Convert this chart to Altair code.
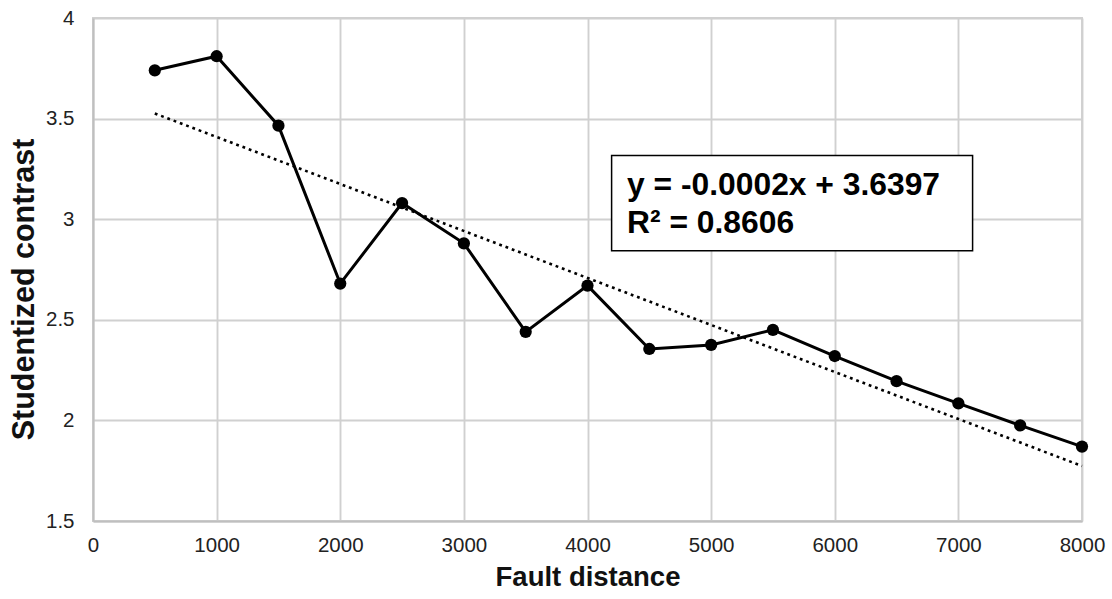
import altair as alt
import pandas as pd

# ---- data ----
distance = [500, 1000, 1500, 2000, 2500, 3000, 3500, 4000,
            4500, 5000, 5500, 6000, 6500, 7000, 7500, 8000]
contrast = [3.74, 3.81, 3.465, 2.68, 3.08, 2.88, 2.44, 2.67,
            2.355, 2.375, 2.45, 2.32, 2.195, 2.085, 1.975, 1.87]

x_ticks = [0, 1000, 2000, 3000, 4000, 5000, 6000, 7000, 8000]
y_ticks = [1.5, 2, 2.5, 3, 3.5, 4]

eq_lines = ["y = -0.0002x + 3.6397", "R\u00b2 = 0.8606"]
eq_x = [4320, 4320]
eq_y = [3.12, 2.93]
box_x = [4195, 7115]
box_y = [3.316, 2.843]

df = pd.DataFrame({"x": distance, "y": contrast})
df_eq = pd.DataFrame({"x": eq_x, "y": eq_y, "t": eq_lines})
df_box = pd.DataFrame({"x": [box_x[0]], "x2": [box_x[1]], "y": [box_y[0]], "y2": [box_y[1]]})

FONT = "Liberation Sans"
W, H = 989, 503

xs = alt.Scale(domain=[0, 8000], nice=False)
ys = alt.Scale(domain=[1.5, 4], nice=False)

x_enc = alt.X("x:Q", scale=xs, axis=alt.Axis(
    values=x_ticks, format="d", title="Fault distance", grid=True,
    ticks=False, tickSize=0, labelPadding=14, labelFontSize=20.5, labelColor="#222222",
    labelFont=FONT, titleFont=FONT, titleFontSize=27.5, titleFontWeight="bold",
    titleColor="#111111", titlePadding=8, labelFlush=False))
y_enc = alt.Y("y:Q", scale=ys, axis=alt.Axis(
    values=y_ticks, format="~g", title="Studentized contrast", grid=True,
    ticks=False, tickSize=0, labelPadding=19, labelFontSize=20.5, labelColor="#222222",
    labelFont=FONT, titleFont=FONT, titleFontSize=30.5, titleFontWeight="bold",
    titleColor="#111111", titleAngle=270, titleAlign="center", titleBaseline="alphabetic",
    titleX=-60, titleY=271, labelFlush=False))

base = alt.Chart(df)

trend = base.transform_regression("x", "y", extent=[500, 8000]).mark_line(
    color="black", strokeWidth=2.6, strokeDash=[2.8, 3.9]
).encode(x=alt.X("x:Q", scale=xs), y=alt.Y("y:Q", scale=ys))

line = base.mark_line(color="black", strokeWidth=3).encode(x=x_enc, y=y_enc)
pts = base.mark_circle(color="black", opacity=1, size=150).encode(
    x=alt.X("x:Q", scale=xs), y=alt.Y("y:Q", scale=ys))

box = alt.Chart(df_box).mark_rect(fill="white", stroke="black", strokeWidth=1.5).encode(
    x=alt.X("x:Q", scale=xs), x2="x2:Q", y=alt.Y("y:Q", scale=ys), y2="y2:Q")
txt = alt.Chart(df_eq).mark_text(
    align="left", baseline="alphabetic", font=FONT, fontSize=31.8, fontWeight="bold", color="black"
).encode(x=alt.X("x:Q", scale=xs), y=alt.Y("y:Q", scale=ys), text="t:N")

chart = alt.layer(line, trend, pts, box, txt).properties(
    width=W, height=H,
    autosize=alt.AutoSizeParams(type="none"),
    padding={"left": 93, "top": 18, "right": 30, "bottom": 78},
).configure_axis(
    gridColor="#d0d0d0", gridWidth=1.9, domainColor="#bfbfbf", domainWidth=2
).configure_view(stroke="#d0d0d0", strokeWidth=1.9)

chart.save("out.html", embed_options={"renderer": "svg", "actions": False})
